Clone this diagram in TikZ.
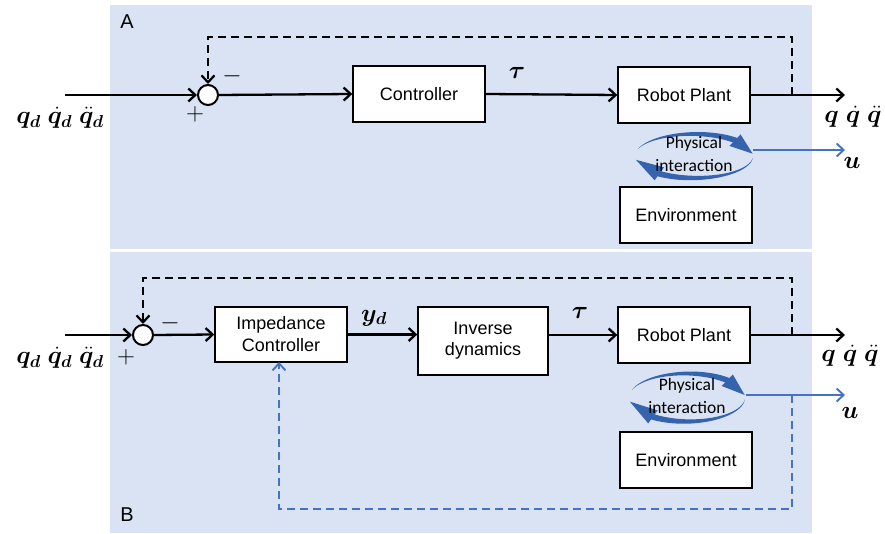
\documentclass[tikz,border=0pt]{standalone}
\usepackage{fontspec}
\setmainfont{Liberation Sans}
\newfontfamily\calibri{Carlito}
\usepackage{amsmath,bm}
\usetikzlibrary{arrows.meta}

\definecolor{panelbg}{HTML}{DAE3F3}
\definecolor{linkblue}{HTML}{4472C4}
\definecolor{piblue}{HTML}{3563AE}

% Tapered curved arrow running clockwise along an ellipse.
% #1,#2 centre, #3,#4 radii, #5 tail angle, #6 head base angle, #7 tip angle
\newcommand\curvedarr[7]{%
  \fill[piblue]
    plot[domain=0:1, samples=40, variable=\t]
      ({#1+(#3+3.2*\t)*cos(#5+(#6-#5)*\t)}, {#2-(#4+3.2*\t)*sin(#5+(#6-#5)*\t)})
    -- plot[domain=1:0, samples=40, variable=\t]
      ({#1+(#3-3.2*\t)*cos(#5+(#6-#5)*\t)}, {#2-(#4-3.2*\t)*sin(#5+(#6-#5)*\t)})
    -- cycle;
  \fill[piblue]
    ({#1+(#3+8)*cos(#6+4)}, {#2-(#4+8)*sin(#6+4)})
    -- ({#1+#3*cos(#7)}, {#2-#4*sin(#7)})
    -- ({#1+(#3-8)*cos(#6+4)}, {#2-(#4-8)*sin(#6+4)})
    -- cycle;
}

\begin{document}
\begin{tikzpicture}[x=1pt, y=-1pt,
  font=\fontsize{18}{22}\selectfont,
  block/.style={draw=black, line width=1.4pt, fill=white, minimum width=132pt,
    minimum height=56pt, align=center, inner sep=0pt},
  sumnode/.style={circle, draw=black, line width=2pt, fill=white,
    minimum size=20pt, inner sep=0pt},
  tip/.style={-{Straight Barb[length=7pt,width=13pt]}},
  sig/.style={line width=2.3pt, tip},
  fbline/.style={line width=2.2pt, dash pattern=on 8pt off 5pt},
  bluelink/.style={draw=linkblue, line width=1.9pt},
  mathlbl/.style={font=\fontsize{24.5}{26}\selectfont, inner sep=0pt},
  signlbl/.style={font=\fontsize{24}{24}\selectfont, inner sep=0pt},
  panellbl/.style={font=\fontsize{20}{24}\selectfont, inner sep=0pt},
  pitext/.style={font=\calibri\fontsize{17.5}{23}\selectfont, align=center, inner sep=0pt}
]
\useasboundingbox (0,0) rectangle (885,534);

% background panels
\fill[panelbg] (110,5) rectangle (812,249);
\fill[panelbg] (110,252) rectangle (812,533);
\node[panellbl] (labA) at (127,22) {A};
\node[panellbl] (labB) at (127,515) {B};

% ---------- scheme A ----------
\node[sumnode] (sumA) at (208,95) {};
\node[block] (ctrl) at (419,94) {Controller};
\node[block] (plantA) at (684,95) {Robot Plant};
\node[block] (envA) at (686,215) {Environment};
\curvedarr{694}{156}{59}{22}{162}{42}{6}
\curvedarr{694}{156}{59}{22}{-5}{-130}{-170}
\node[pitext] (piA) at (694,154) {Physical\\interaction};

\coordinate (inA) at (65,95);
\coordinate (outA) at (845,95);
\coordinate (tapA) at (792,95);
\coordinate (uA0) at (753,150);
\coordinate (uA) at (845,150);

\draw[sig] (inA) -- (sumA.west);
\draw[sig] (sumA.east) -- (ctrl.west);
\draw[sig] (ctrl.east) -- (plantA.west);
\draw[sig] (plantA.east) -- (outA);
\draw[fbline, tip] (tapA) |- (208,37) -- (sumA.north);
\draw[bluelink, tip] (uA0) -- (uA);

\node[mathlbl] (qdA) at (60,118) {$\bm{q_d\;\dot{q}_d\;\ddot{q}_d}$};
\node[mathlbl] (qA) at (853,117) {$\bm{q\;\dot{q}\;\ddot{q}}$};
\node[mathlbl] (tauA) at (517,73) {$\bm{\tau}$};
\node[mathlbl] (uAl) at (852,163) {$\bm{u}$};
\node[signlbl] (plA) at (195,114) {$+$};
\node[signlbl] (miA) at (232,76) {$-$};

% ---------- scheme B ----------
\node[sumnode] (sumB) at (143,335) {};
\node[block, minimum height=55pt] (imp) at (281,334.5) {Impedance\\Controller};
\node[block, minimum width=130pt, minimum height=68pt,
  font=\fontsize{18}{21}\selectfont] (invd) at (483,341) {Inverse\\dynamics};
\node[block] (plantB) at (684,335) {Robot Plant};
\node[block] (envB) at (686,460) {Environment};
\curvedarr{687}{397.5}{58}{24}{162}{42}{6}
\curvedarr{687}{397.5}{58}{24}{-5}{-130}{-170}
\node[pitext] (piB) at (687,396) {Physical\\interaction};

\coordinate (inB) at (65,335);
\coordinate (outB) at (845,335);
\coordinate (tapB) at (792,335);
\coordinate (uB0) at (746,395);
\coordinate (uB) at (845,395);
\coordinate (tapU) at (792,395);
\coordinate (impIn) at (279,362);

\draw[sig] (inB) -- (sumB.west);
\draw[sig] (sumB.east) -- (imp.west);
\draw[sig] (imp.east) -- (invd.west |- imp.east);
\draw[sig] (invd.east |- plantB.west) -- (plantB.west);
\draw[sig] (plantB.east) -- (outB);
\draw[fbline, tip] (tapB) |- (143,278) -- (sumB.north);
\draw[bluelink, tip] (uB0) -- (uB);
\draw[bluelink, dash pattern=on 8pt off 5pt, tip] (tapU) |- (279,509) -- (impIn);

\node[mathlbl] (qdB) at (60,358) {$\bm{q_d\;\dot{q}_d\;\ddot{q}_d}$};
\node[mathlbl] (qB) at (850,356) {$\bm{q\;\dot{q}\;\ddot{q}}$};
\node[mathlbl] (yd) at (374,318) {$\bm{y_d}$};
\node[mathlbl] (tauB) at (580,313) {$\bm{\tau}$};
\node[mathlbl] (uBl) at (850,413) {$\bm{u}$};
\node[signlbl] (plB) at (126,357) {$+$};
\node[signlbl] (miB) at (170,323) {$-$};
\end{tikzpicture}
\end{document}
